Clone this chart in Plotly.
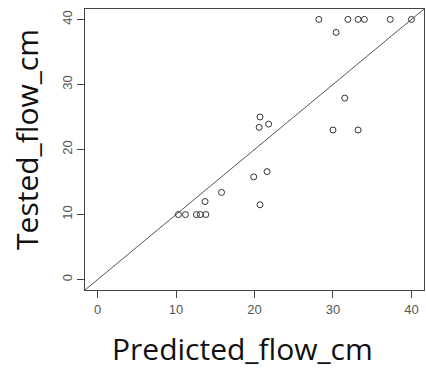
import plotly.graph_objects as go

predicted = [28.2, 31.9, 33.2, 34.0, 37.3, 40.0, 30.4, 31.5, 20.7, 20.6, 21.8, 30.0, 33.2,
             19.9, 21.6, 15.8, 13.7, 20.7, 10.3, 11.2, 12.6, 13.1, 13.8]
tested = [40, 40, 40, 40, 40, 40, 38.0, 27.9, 25.0, 23.4, 23.9, 23.0, 23.0,
          15.8, 16.6, 13.4, 12.0, 11.5, 10, 10, 10, 10, 10]
tick_vals = [0, 10, 20, 30, 40]
axis_range = [-1.6, 41.6]

fig = go.Figure()
fig.add_trace(go.Scatter(x=axis_range, y=axis_range, mode="lines",
                         line=dict(color="#555555", width=1), hoverinfo="skip"))
fig.add_trace(go.Scatter(x=predicted, y=tested, mode="markers",
                         marker=dict(symbol="circle-open", size=6,
                                     color="#333333", line=dict(width=1))))

axis_common = dict(range=axis_range, tickvals=tick_vals, showgrid=False, zeroline=False,
                   showline=True, mirror=True, linecolor="#444444", linewidth=1,
                   ticks="outside", ticklen=7, tickcolor="#444444",
                   tickfont=dict(family="Liberation Sans", size=13, color="#555555"))
fig.update_xaxes(**axis_common)
fig.update_yaxes(**axis_common, tickangle=-90)

fig.add_annotation(text="Predicted_flow_cm", xref="paper", yref="paper",
                   x=0.4646, y=-0.2865, xanchor="center", yanchor="bottom",
                   showarrow=False, font=dict(family="Open Sans", size=30, color="#111111"))
fig.add_annotation(text="Tested_flow_cm", xref="paper", yref="paper",
                   x=-0.171, y=0.534, xanchor="center", yanchor="middle", textangle=-90,
                   showarrow=False, font=dict(family="Open Sans", size=30, color="#111111"))

fig.update_layout(width=426, height=371, margin=dict(l=85, r=2, t=9, b=81),
                  plot_bgcolor="white", paper_bgcolor="white", showlegend=False)
fig.write_html("out.html")
